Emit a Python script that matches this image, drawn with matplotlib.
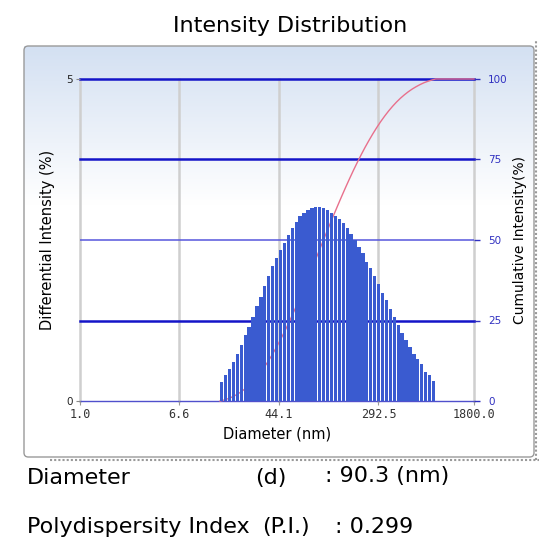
import numpy as np
import matplotlib
matplotlib.use("Agg")
import matplotlib.pyplot as plt
from matplotlib.patches import FancyBboxPatch
from matplotlib.lines import Line2D

# intensity per size bin (%), smallest to largest diameter
intensity = [0.30, 0.40, 0.50, 0.61, 0.73, 0.87, 1.02, 1.15, 1.30, 1.48,
             1.62, 1.78, 1.94, 2.09, 2.22, 2.35, 2.46, 2.58, 2.68,
             2.78, 2.87, 2.92, 2.97, 3.00, 3.01, 3.01, 3.00, 2.97, 2.92,
             2.87, 2.83, 2.76, 2.68, 2.60, 2.50, 2.39, 2.30, 2.16, 2.06,
             1.94, 1.82, 1.68, 1.57, 1.43, 1.31, 1.18, 1.05, 0.95, 0.84,
             0.73, 0.65, 0.57, 0.45, 0.40, 0.31]
d_min, d_max = 14.35, 869.0          # outer edges of the size bins (nm)
x_ticks = [1.0, 6.6, 44.1, 292.5, 1800.0]
x_labels = ["1.0", "6.6", "44.1", "292.5", "1800.0"]
cum_ticks = [0, 25, 50, 75, 100]
mean_d = "90.3"
pdi = "0.299"

W, H = 539, 542
fig = plt.figure(figsize=(W / 100, H / 100), dpi=100)

# panel with light blue fade at the top
bg = fig.add_axes([24 / W, 1 - 457 / H, 510 / W, 411 / H])
grad = np.ones((200, 1, 3))
t = np.clip(np.linspace(1, 0, 200) * 2.6 - 1.6, 0, 1)
top = np.array([0.83, 0.88, 0.95])
for i in range(3):
    grad[:, 0, i] = 1 - t * (1 - top[i])
bg.imshow(grad, aspect="auto", extent=[0, 1, 0, 1])
bg.axis("off")
fig.patches.append(FancyBboxPatch((24 / W, 1 - 457 / H), 510 / W, 411 / H,
                                  boxstyle="round,pad=0,rounding_size=0.008",
                                  transform=fig.transFigure, fill=False,
                                  ec="#9a9a9a", lw=1))
fig.lines.append(Line2D([536 / W, 536 / W], [1 - 460 / H, 1 - 40 / H], transform=fig.transFigure,
                        color="#999999", lw=1.5, ls=(0, (1, 1))))
fig.lines.append(Line2D([50 / W, 1], [1 - 460 / H, 1 - 460 / H], transform=fig.transFigure,
                        color="#999999", lw=1.5, ls=(0, (1, 1))))

# cumulative axis underneath, bar axis on top
axc = fig.add_axes([80 / W, 1 - 401 / H, 394 / W, 322 / H])
axc.set_facecolor("none")
axc.set_xscale("log")
axc.set_xlim(1.0, 1800.0)
axc.set_ylim(0, 100)
axb = axc.twinx()
axb.set_ylim(0, 5)
axb.set_zorder(axc.get_zorder() + 1)
axb.patch.set_visible(False)

for xv in x_ticks:
    axc.axvline(xv, color="#cfcfcf", lw=1.8, zorder=0, clip_on=False)
for yv in [25, 75, 100]:
    axc.axhline(yv, color="#1414c8", lw=1.8, zorder=1, clip_on=False)
axc.axhline(50, color="#5656dc", lw=1.1, zorder=1)
axc.axhline(0, color="#5050cc", lw=1, zorder=1, clip_on=False)

edges = np.geomspace(d_min, d_max, len(intensity) + 1)
cum = np.cumsum(intensity) / np.sum(intensity) * 100
cx = np.concatenate([edges, [1800.0]])
cy = np.concatenate([[0], cum, [100]])
axc.plot(cx, cy, color="#e8708c", lw=1, zorder=2, clip_on=False)

axb.bar(edges[:-1], intensity, width=(edges[1:] - edges[:-1]) * 0.84,
        align="edge", color="#3a5bd0", zorder=3)

for a in (axc, axb):
    for s in a.spines.values():
        s.set_visible(False)

axb.yaxis.tick_left()
axb.yaxis.set_label_position("left")
axb.set_yticks([0, 5])
axb.set_yticklabels(["0", "5"])
axb.tick_params(axis="y", length=3, width=0.8, color="#888888", labelsize=7.5, labelcolor="#222222", pad=2)
axb.set_ylabel("Differential Intensity (%)", fontsize=10.5, labelpad=8)

axc.yaxis.tick_right()
axc.yaxis.set_label_position("right")
axc.set_yticks(cum_ticks)
axc.set_yticklabels([str(v) for v in cum_ticks])
axc.tick_params(axis="y", length=4, width=1, color="#3030c0", labelsize=7.5, labelcolor="#3030c0", pad=6)
axc.set_ylabel("Cumulative Intensity(%)", fontsize=10, labelpad=4)

axc.set_xticks(x_ticks)
axc.set_xticklabels(x_labels, family="DejaVu Sans Mono")
axc.minorticks_off()
axc.tick_params(axis="x", length=3, color="#999999", labelsize=8.5, labelcolor="#333333", pad=2)
axc.set_xlabel("Diameter (nm)", fontsize=10.5, labelpad=4)

fig.text(290 / W, 1 - 26 / H, "Intensity Distribution", ha="center", va="center", fontsize=16)

fs = 16
fig.text(27 / W, 1 - 478 / H, "Diameter", va="center", fontsize=fs)
fig.text(255 / W, 1 - 478 / H, "(d)", va="center", fontsize=fs)
fig.text(325 / W, 1 - 476 / H, ": " + mean_d + " (nm)", va="center", fontsize=fs)
fig.text(27 / W, 1 - 527 / H, "Polydispersity Index", va="center", fontsize=fs)
fig.text(262 / W, 1 - 527 / H, "(P.I.)", va="center", fontsize=fs)
fig.text(335 / W, 1 - 527 / H, ": " + pdi, va="center", fontsize=fs)

fig.savefig("out.png", dpi=100)
